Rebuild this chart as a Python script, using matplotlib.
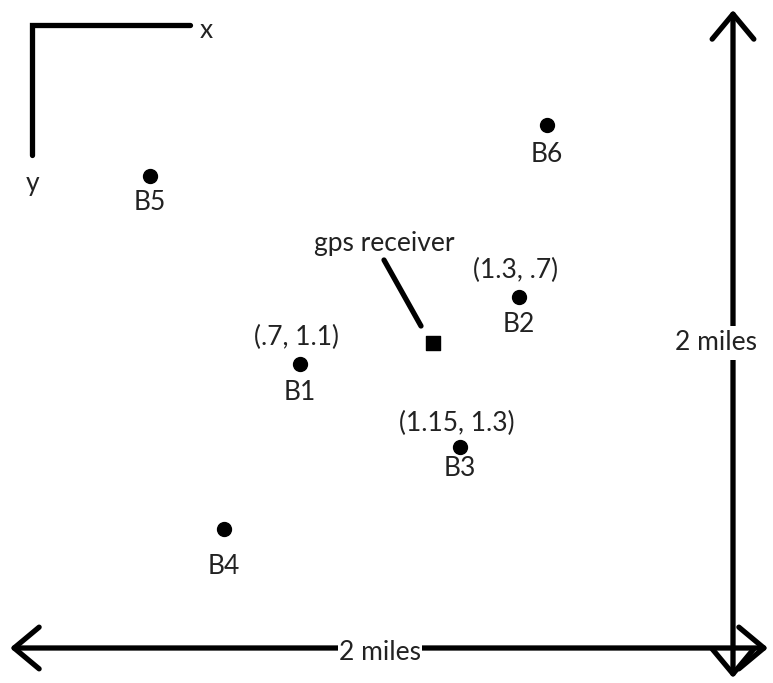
import matplotlib
matplotlib.use("Agg")
import matplotlib.pyplot as plt

# Diagram units (image-like coordinates, y downward)
stations = ["B1", "B2", "B3", "B4", "B5", "B6"]
st_x = [300, 519, 460, 224, 150, 547]
st_y = [364, 297, 447, 529, 176, 125]
coord_labels = {"B1": "(.7, 1.1)", "B2": "(1.3, .7)", "B3": "(1.15, 1.3)"}
receiver_x, receiver_y = 433, 343

# label placement (layout only)
name_offset = {"B1": 29, "B2": 28, "B3": 22, "B4": 37, "B5": 27, "B6": 30}
coord_offset = {"B1": 27, "B2": 27, "B3": 24}

plt.rcParams['font.family'] = ['Lato', 'DejaVu Sans']
fig = plt.figure(figsize=(7.73, 6.83), dpi=100)
ax = fig.add_axes([0, 0, 1, 1])
ax.set_xlim(0, 773)
ax.set_ylim(683, 0)
ax.axis('off')

LW = 3.8
FS = 19
TC = '#222222'

# corner axes
ax.plot([32, 32, 190], [155, 25, 25], color='black', lw=LW, solid_capstyle='round', solid_joinstyle='miter')
ax.text(206, 30, "x", fontsize=FS, ha='center', va='center', color=TC)
ax.text(33, 183, "y", fontsize=FS, ha='center', va='center', color=TC)

# stations
ax.scatter(st_x, st_y, s=100, color='black', zorder=3)
for name, x, y in zip(stations, st_x, st_y):
    ax.text(x, y + name_offset[name], name, fontsize=FS, ha='center', va='center', color=TC)
    if name in coord_labels:
        ax.text(x - 3, y - coord_offset[name], coord_labels[name], fontsize=FS,
                ha='center', va='center', color=TC)

# receiver
ax.scatter([receiver_x], [receiver_y], s=100, marker='s', color='black', zorder=3)
ax.plot([384, 421], [260, 326], color='black', lw=LW, solid_capstyle='round')
ax.text(384, 243, "gps receiver", fontsize=FS, ha='center', va='center', color=TC)

# dimension arrows
style = "<->,head_length=1.8,head_width=1.5"
ax.annotate("", xy=(10, 648), xytext=(768, 648),
            arrowprops=dict(arrowstyle=style, lw=LW, color='black', shrinkA=0, shrinkB=0))
ax.annotate("", xy=(733, 10), xytext=(733, 678),
            arrowprops=dict(arrowstyle=style, lw=LW, color='black', shrinkA=0, shrinkB=0))
ax.text(380, 652, "2 miles", fontsize=FS, ha='center', va='center', zorder=5, color=TC,
        family=['Liberation Sans Narrow', 'Lato'], fontstretch='condensed',
        bbox=dict(facecolor='white', edgecolor='none', pad=1.0))
ax.text(716, 343, "2 miles", fontsize=FS, ha='center', va='center', zorder=5, color=TC,
        bbox=dict(facecolor='white', edgecolor='none', pad=3))

fig.savefig("out.png", dpi=100)
